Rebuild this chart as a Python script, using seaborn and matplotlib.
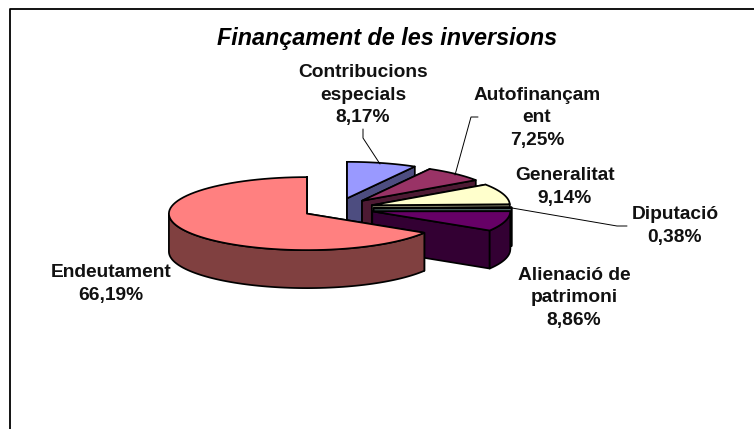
# plotting modules
import numpy as np
import matplotlib
matplotlib.use('Agg')
import matplotlib.pyplot as plt
import seaborn as sns

sns.set_theme(style='white')
plt.rcParams['font.family'] = ['Liberation Sans', 'DejaVu Sans']

# data, slices run clockwise from 12 o'clock
title = 'Finançament de les inversions'
categories = ['Contribucions\nespecials', 'Autofinançam\nent', 'Generalitat',
              'Diputació', 'Alienació de\npatrimoni', 'Endeutament']
values = [8.17, 7.25, 9.14, 0.38, 8.86, 66.19]

# excel's old default pie colours, sides are the same at half brightness
colors = sns.color_palette(['#9999FF', '#993366', '#FFFFCC', '#CCFFFF', '#660066', '#FF8080'])

# layout, all in image pixels
label_pos = [(363, 95), (537, 118), (565, 187), (675, 226), (574, 298), (111, 284)]
leaders = [[(363, 129), (363, 138), (380, 164)],
           [(478, 117), (471, 117), (455, 175)],
           [(627, 226), (617, 226), (512, 208)]]
cx, cy = 338, 208.5
rx, ry = 138, 36.5
depth = 38
explode_x, explode_y = 35.6, 10.5

fig = plt.figure(figsize=(7.54, 4.29), dpi=100)
ax = fig.add_axes([0, 0, 1, 1])
ax.set_xlim(0, 754)
ax.set_ylim(429, 0)
ax.axis('off')

# only the top and left of the chart frame are in the picture
ax.plot([9.5, 9.5, 754], [429, 9, 9], color='black', lw=1.3)


def arc(x0, y0, a0, a1):
    t = np.radians(np.linspace(a0, a1, 80))
    return x0 + rx * np.sin(t), y0 - ry * np.cos(t)


def wall(xs, ys, color):
    # extrude a top edge down by the pie depth
    px = np.concatenate([xs, xs[::-1]])
    py = np.concatenate([ys, ys[::-1] + depth])
    ax.fill(px, py, facecolor=color, edgecolor='black', lw=1.25, joinstyle='round')


edges = np.cumsum([0] + values) / sum(values) * 360
for i, c in enumerate(colors):
    a0, a1 = edges[i], edges[i + 1]
    mid = np.radians((a0 + a1) / 2)
    x0 = cx + explode_x * np.sin(mid)
    y0 = cy - explode_y * np.cos(mid)
    side = tuple(np.array(c) * 0.5)

    # cut faces and the part of the rim facing us
    xa, ya = arc(x0, y0, a0, a0)
    wall(np.array([x0, xa[0]]), np.array([y0, ya[0]]), side)
    xb, yb = arc(x0, y0, a1, a1)
    wall(np.array([x0, xb[0]]), np.array([y0, yb[0]]), side)
    f0, f1 = max(a0, 90), min(a1, 270)
    if f1 > f0:
        xs, ys = arc(x0, y0, f0, f1)
        wall(xs, ys, side)

    xs, ys = arc(x0, y0, a0, a1)
    ax.fill(np.r_[x0, xs], np.r_[y0, ys], facecolor=c, edgecolor='black', lw=1.25, joinstyle='round')

for pts in leaders:
    ax.plot(*zip(*pts), color='black', lw=0.7)

for name, v, pos in zip(categories, values, label_pos):
    pct = f'{v:.2f}'.replace('.', ',') + '%'
    ax.text(pos[0], pos[1], f'{name}\n{pct}', ha='center', va='center', ma='center',
            fontsize=13.8, fontweight='bold', color='#111111', linespacing=1.42)

ax.text(387.5, 38.5, title, ha='center', va='center', fontsize=16.8,
        fontweight='bold', fontstyle='italic', color='black')

fig.savefig('out.png', dpi=100)
plt.close('all')
